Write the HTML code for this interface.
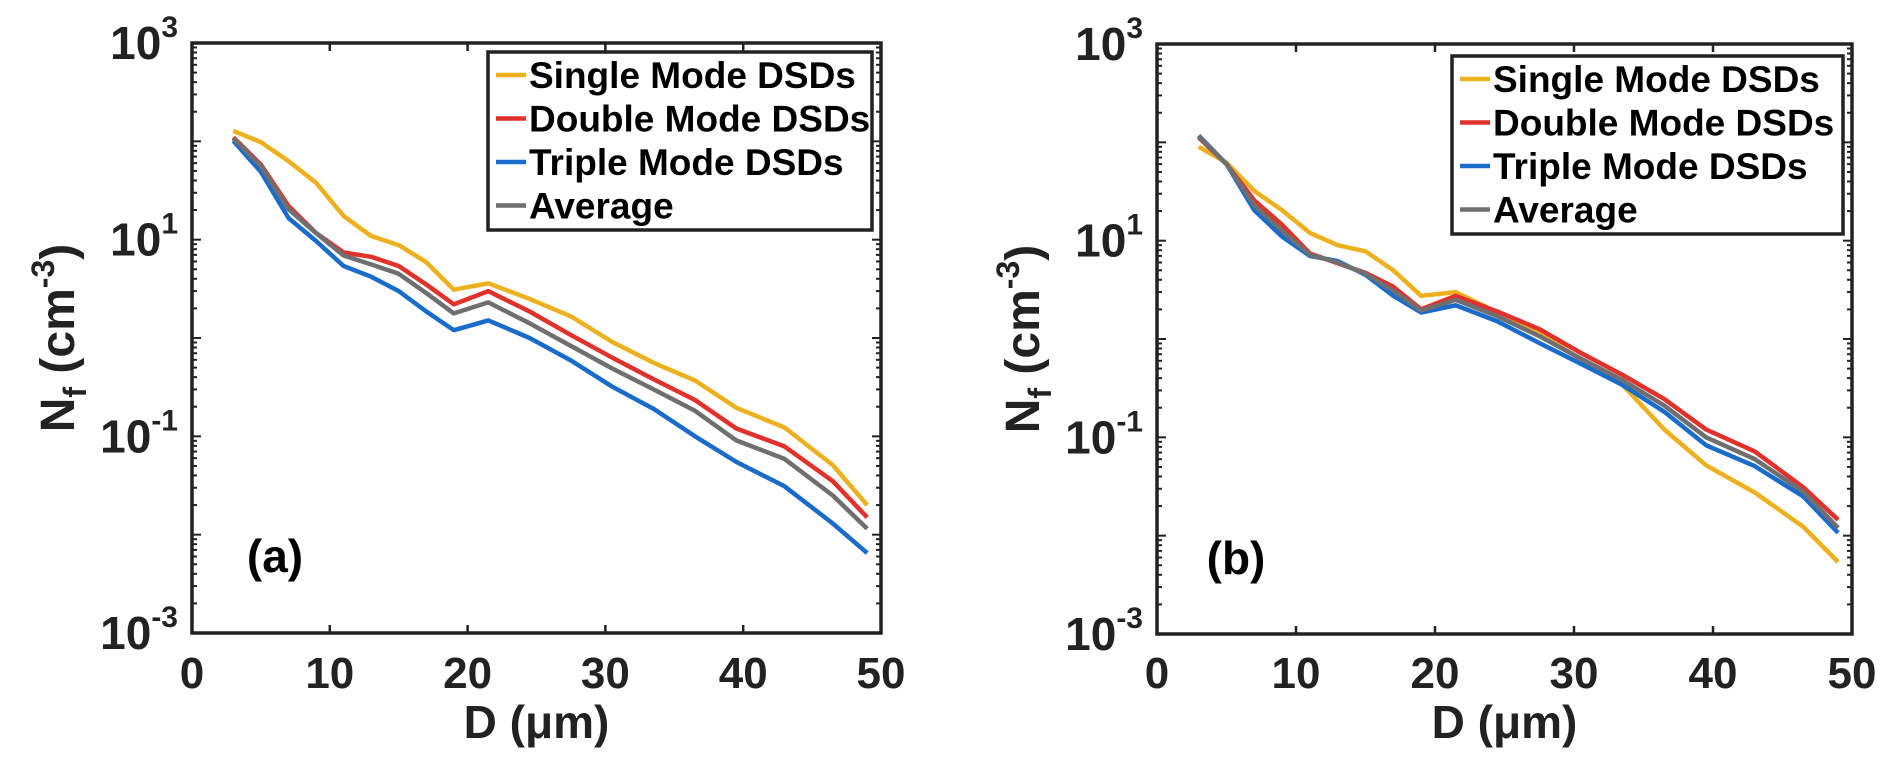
<!DOCTYPE html>
<html><head><meta charset="utf-8"><style>
html,body{margin:0;padding:0;background:#fff;}
svg{display:block;font-family:"Liberation Sans",Arial,sans-serif;font-weight:bold;}
</style></head><body>
<svg id="fig" width="1892" height="775" xmlns="http://www.w3.org/2000/svg"></svg>
<script>
const D = [3,5,7,9,11,13,15,17,19,21.5,24.5,27.5,30.5,33.5,36.5,39.5,43,46.5,49];
const seriesNames = ["Single Mode DSDs","Double Mode DSDs","Triple Mode DSDs","Average"];
const singleA = [128,98,63,38,17.4,10.9,8.8,5.9,3.1,3.6,2.5,1.66,0.91,0.56,0.37,0.195,0.123,0.051,0.020];
const doubleA = [110,58,22,11.7,7.4,6.7,5.4,3.5,2.2,3.0,1.86,1.07,0.63,0.38,0.234,0.12,0.079,0.035,0.015];
const tripleA = [101,49,16.6,9.7,5.4,4.2,3.0,1.86,1.2,1.51,1.0,0.59,0.32,0.19,0.1,0.055,0.031,0.013,0.0065];
const averageA = [107,56,20.4,11.7,6.9,5.6,4.5,2.86,1.78,2.3,1.41,0.83,0.49,0.30,0.182,0.091,0.059,0.025,0.0115];
const singleB = [90,62,32,20.4,12,9.0,7.8,5.0,2.75,3.0,1.86,1.15,0.62,0.34,0.12,0.052,0.0275,0.0123,0.0054];
const doubleB = [112,60,25.7,14.5,7.4,5.9,4.7,3.4,2.0,2.75,1.9,1.26,0.72,0.43,0.245,0.12,0.072,0.031,0.0145];
const tripleB = [117,60,20.4,11,7.0,6.2,4.5,2.75,1.86,2.2,1.51,0.91,0.56,0.34,0.182,0.083,0.051,0.025,0.0107];
const averageB = [115,60,22.9,12.6,7.2,6.0,4.6,3.1,1.95,2.5,1.7,1.07,0.63,0.38,0.21,0.1,0.06,0.028,0.012];
const xTicks = [0,10,20,30,40,50];
const yTickExps = [-3,-1,1,3];

const NS="http://www.w3.org/2000/svg";
const svg=document.getElementById('fig');
const colors=["#EDB120","#E0312B","#1A6CCB","#6F6F72"];
function mk(tag,attrs,parent){const e=document.createElementNS(NS,tag);for(const k in attrs)e.setAttribute(k,attrs[k]);(parent||svg).appendChild(e);return e;}

function panel(L,R,T,B,sets,tag,legL,legT,letter,letterX,letterY,ylabX){
  const g=mk('g',{});
  
  
  const xs=v=>L+(v-0)/(50-0)*(R-L);
  const ys=v=>T+(3-Math.log10(v))/6*(B-T);
  // ticks
  for(const t of xTicks){
    const x=xs(t);
    if(t>0&&t<50){
      const a=mk('line',{x1:x,x2:x,y1:B,y2:B-8,stroke:'#222','stroke-width':2.5},g);
      const b=mk('line',{x1:x,x2:x,y1:T,y2:T+8,stroke:'#222','stroke-width':2.5},g);
    }
    const tx=mk('text',{x:x,y:688,'font-size':44,'text-anchor':'middle',fill:'#222'},g);
    
    
    tx.textContent=t;
  }
  for(let e=-3;e<3;e++){
    for(let m=1;m<10;m++){
      const y=ys(m*Math.pow(10,e));
      const len=m===1?9:5;
      mk('line',{x1:L,x2:L+len,y1:y,y2:y,stroke:'#222','stroke-width':2},g);
      mk('line',{x1:R,x2:R-len,y1:y,y2:y,stroke:'#222','stroke-width':2},g);
    }
  }
  for(const e of yTickExps){
    const y=ys(Math.pow(10,e));
    const tx=mk('text',{x:L-14,y:y+16,'font-size':46,'text-anchor':'end',fill:'#222'},g);
    
    
    const t1=mk('tspan',{},tx);t1.textContent='10';
    const t2=mk('tspan',{'font-size':30,dy:-22},tx);t2.textContent=String(e);
  }
  // series
  sets.forEach((arr,i)=>{
    const p=mk('polyline',{points:arr.map((v,j)=>xs(D[j]).toFixed(1)+','+ys(v).toFixed(1)).join(' '),fill:'none',stroke:colors[i],'stroke-width':4.5,'stroke-linejoin':'round'},g);
    
    
  });
  // axes box
  const box=mk('rect',{x:L,y:T,width:R-L,height:B-T,fill:'none',stroke:'#222','stroke-width':3.5},g);
  
  
  // legend
  const lg=mk('g',{},g);
  
  
  mk('rect',{x:legL,y:legT,width:R-9-legL,height:178,fill:'#fff',stroke:'#222','stroke-width':3.5},lg);
  seriesNames.forEach((n,i)=>{
    const by=legT+36+i*43.5;
    const ln=mk('line',{x1:legL+8,x2:legL+38,y1:by-13,y2:by-13,stroke:colors[i],'stroke-width':4.5},lg);
    
    
    const t=mk('text',{x:legL+41,y:by,'font-size':37,fill:'#000'},lg);
    
    
    t.textContent=n;
  });
  const lt=mk('text',{x:letterX,y:letterY,'font-size':46,'text-anchor':'middle',fill:'#000'},g);
  
  
  lt.textContent=letter;
  const xl=mk('text',{x:(L+R)/2,y:738,'font-size':46,'text-anchor':'middle',fill:'#222'},g);
  
  
  xl.textContent='D (μm)';
  const yl=mk('text',{x:0,y:0,'font-size':48,'text-anchor':'middle',fill:'#222',transform:'translate('+(ylabX+16)+','+((T+B)/2)+') rotate(-90)'},g);
  
  
  const a=mk('tspan',{},yl);a.textContent='N';
  const b=mk('tspan',{'font-size':32,dy:12},yl);b.textContent='f';
  const c=mk('tspan',{dy:-12},yl);c.textContent=' (cm';
  const d=mk('tspan',{'font-size':32,dy:-20},yl);d.textContent='-3';
  const f=mk('tspan',{dy:20},yl);f.textContent=')';
}
panel(192,881,43,633,[singleA,doubleA,tripleA,averageA],'a',488,52,'(a)',275,572,58);
panel(1157,1852,44,634,[singleB,doubleB,tripleB,averageB],'b',1452,56,'(b)',1236,574,1023);
</script>
</body></html>
